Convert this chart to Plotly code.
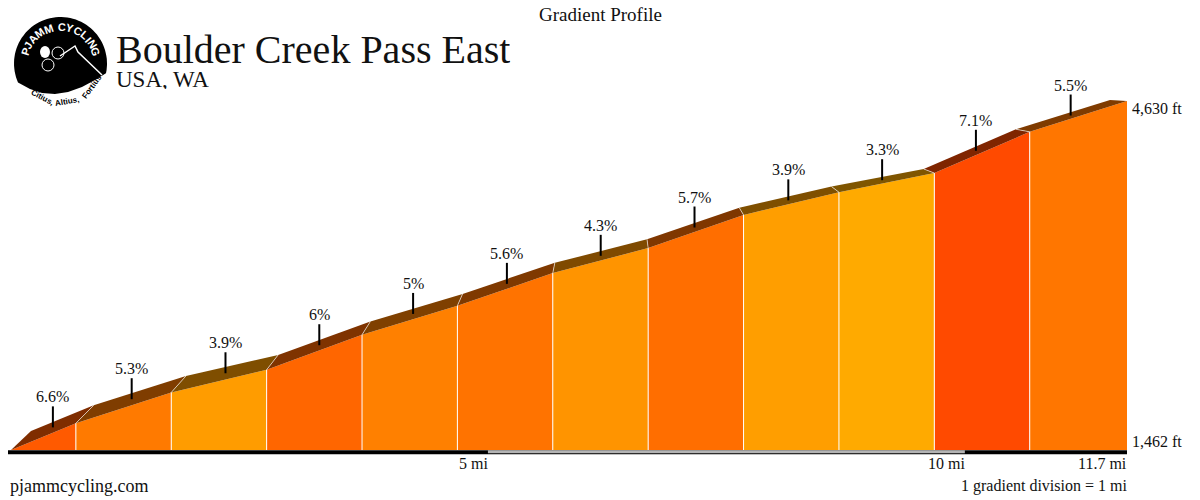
import math
import plotly.graph_objs as go

# profile data
dist_mi = [0, 0.68, 1.68, 2.68, 3.68, 4.68, 5.68, 6.68, 7.68, 8.68, 9.68, 10.68, 11.7]
elev_ft = [1462, 1705, 1985, 2190, 2508, 2772, 3068, 3295, 3596, 3802, 3976, 4350, 4630]
grade = [6.6, 5.3, 3.9, 6, 5, 5.6, 4.3, 5.7, 3.9, 3.3, 7.1, 5.5]
grade_labels = ['6.6%', '5.3%', '3.9%', '6%', '5%', '5.6%', '4.3%', '5.7%', '3.9%', '3.3%', '7.1%', '5.5%']
mile_ticks = [5, 10, 11.7]
mile_labels = ['5 mi', '10 mi', '11.7 mi']

# colours of the front faces (one per segment)
front_colors = ['#ff5a00', '#ff7a00', '#ff9c00', '#ff6600', '#ff8000', '#ff7300',
                '#ff9400', '#ff6e00', '#ff9e00', '#ffaa00', '#ff4a00', '#ff7600']


def darker(c, k=0.5):
    r, g, b = int(c[1:3], 16), int(c[3:5], 16), int(c[5:7], 16)
    return 'rgb(%d,%d,%d)' % (r * k, g * k, b * k)


W, H = 1200, 500
FONT = 'Liberation Serif, Times New Roman, serif'

# pixel scale of the drawing
ppm = 1116 / dist_mi[-1]                          # px per mile
fpp = (max(elev_ft) - min(elev_ft)) / 349         # ft per px
base = min(elev_ft)
x_range = [-11 / ppm, (W - 11) / ppm]
y_range = [base - 50 * fpp, base + 450 * fpp]


def px(x):
    return x / W


def py(y):
    return 1 - y / H


def offset(d):
    # perspective offset of the top face, in data units
    t = d / dist_mi[-1]
    return (20 - 37 * t) / ppm, (19 - 18 * t) * fpp


fig = go.Figure()
n = len(grade)

# front faces
for i in range(n):
    d0, d1 = dist_mi[i], dist_mi[i + 1]
    e0, e1 = elev_ft[i], elev_ft[i + 1]
    fig.add_trace(go.Scatter(x=[d0, d0, d1, d1, d0], y=[base, e0, e1, base, base],
                             fill='toself', fillcolor=front_colors[i], mode='lines',
                             line=dict(width=0), hoverinfo='skip'))

# top faces
for i in range(n):
    d0, d1 = dist_mi[i], dist_mi[i + 1]
    e0, e1 = elev_ft[i], elev_ft[i + 1]
    ox0, oy0 = offset(d0)
    ox1, oy1 = offset(d1)
    fig.add_trace(go.Scatter(x=[d0, d1, d1 + ox1, d0 + ox0, d0],
                             y=[e0, e1, e1 + oy1, e0 + oy0, e0],
                             fill='toself', fillcolor=darker(front_colors[i]), mode='lines',
                             line=dict(width=0), hoverinfo='skip'))

# white separators
sx, sy, tx, ty = [], [], [], []
for i in range(1, n):
    d, e = dist_mi[i], elev_ft[i]
    ox, oy = offset(d)
    sx += [d, d, None]
    sy += [base, e, None]
    tx += [d, d + ox, None]
    ty += [e, e + oy, None]
fig.add_trace(go.Scatter(x=sx, y=sy, mode='lines', line=dict(color='white', width=1),
                         hoverinfo='skip'))
fig.add_trace(go.Scatter(x=tx, y=ty, mode='lines',
                         line=dict(color='rgba(255,255,255,0.6)', width=1), hoverinfo='skip'))

# gradient ticks
kx, ky = [], []
for i in range(n):
    d = (dist_mi[i] + dist_mi[i + 1]) / 2
    e = (elev_ft[i] + elev_ft[i + 1]) / 2
    ox, oy = offset(d)
    xc, yc = d + ox / 2, e + oy / 2
    kx += [xc, xc, None]
    ky += [yc, yc + 21 * fpp, None]
    fig.add_annotation(x=xc, y=yc + 21 * fpp, text=grade_labels[i], showarrow=False,
                       xanchor='center', yanchor='bottom', yshift=-1,
                       font=dict(family=FONT, size=16, color='#111'))
fig.add_trace(go.Scatter(x=kx, y=ky, mode='lines', line=dict(color='black', width=2),
                         hoverinfo='skip'))

# distance bar
bar_y = base - 2.3 * fpp
fig.add_trace(go.Scatter(x=[-3 / ppm, dist_mi[-1]], y=[bar_y, bar_y], mode='lines',
                         line=dict(color='black', width=4), hoverinfo='skip'))
fig.add_trace(go.Scatter(x=[mile_ticks[0], mile_ticks[1]], y=[bar_y + 0.5 * fpp, bar_y + 0.5 * fpp],
                         mode='lines', line=dict(color='#b4b4b4', width=3), hoverinfo='skip'))
for m, lab in zip(mile_ticks, mile_labels):
    fig.add_annotation(x=m, y=base - 13 * fpp, text=lab, showarrow=False,
                       xanchor='right', yanchor='middle', xshift=2,
                       font=dict(family=FONT, size=16, color='#111'))

# elevation labels
fig.add_annotation(x=dist_mi[-1] + 3 / ppm, y=max(elev_ft) - 7 * fpp,
                   text='{:,} ft'.format(max(elev_ft)), showarrow=False,
                   xanchor='left', yanchor='middle', font=dict(family=FONT, size=16, color='#111'))
fig.add_annotation(x=dist_mi[-1] + 3 / ppm, y=base + 9 * fpp,
                   text='{:,} ft'.format(base), showarrow=False,
                   xanchor='left', yanchor='middle', font=dict(family=FONT, size=16, color='#111'))

# header and footer texts
texts = [
    ('Gradient Profile', 600, 14, 19, 'center', 20),
    ('Boulder Creek Pass East', 114, 49, 40, 'left', 36),
    ('USA, WA', 114, 79, 23, 'left', 20),
    ('pjammcycling.com', 8, 486, 18, 'left', 20),
    ('1 gradient division = 1 mi', 1129, 486, 16, 'right', 18),
]
for t, x, y, s, a, h in texts:
    fig.add_annotation(xref='paper', yref='paper', x=px(x), y=py(y), text=t, showarrow=False,
                       xanchor=a, yanchor='middle', height=h,
                       font=dict(family=FONT, size=s, color='#111'))

# logo
cx, cy, r = 60.5, 63.5, 46.5
pts = []
for k in range(61):
    a = math.radians(204 - k * (216 / 60))
    pts.append((cx + r * math.cos(a), cy - r * math.sin(a)))
pts += [(95, 80), (82, 87), (68, 92), (55, 94), (42, 93), (30, 89)]
path = 'M ' + ' L '.join('%.4f,%.4f' % (px(a), py(b)) for a, b in pts) + ' Z'
fig.add_shape(type='path', xref='paper', yref='paper', path=path,
              fillcolor='black', line=dict(width=0))
mpts = [(60, 56), (75, 46), (78, 52), (102, 75)]
fig.add_shape(type='path', xref='paper', yref='paper',
              path='M ' + ' L '.join('%.4f,%.4f' % (px(a), py(b)) for a, b in mpts),
              line=dict(color='white', width=1.5))
for wx, wy in [(48, 65), (58, 53)]:
    fig.add_shape(type='circle', xref='paper', yref='paper',
                  x0=px(wx - 6), x1=px(wx + 6), y0=py(wy + 6), y1=py(wy - 6),
                  line=dict(color='white', width=1))
fig.add_shape(type='circle', xref='paper', yref='paper',
              x0=px(40), x1=px(50), y0=py(58), y1=py(46),
              fillcolor='white', line=dict(width=0))

# letters of the logo text spread by rough width
top_txt = 'PJAMM CYCLING'
wts = [{'I': 0.45, 'J': 0.8, ' ': 0.6, 'M': 1.2}.get(c, 1.0) for c in top_txt]
tot = sum(wts)
acc = 0
for ch, w in zip(top_txt, wts):
    a = 168 - (acc + w / 2) / tot * 156
    acc += w
    ar = math.radians(a)
    fig.add_annotation(xref='paper', yref='paper', x=px(cx + 37 * math.cos(ar)),
                       y=py(cy - 37 * math.sin(ar)), text='<b>%s</b>' % ch, showarrow=False,
                       textangle=90 - a, xanchor='center', yanchor='middle',
                       font=dict(family='Liberation Sans, Arial', size=11, color='white'))
for word, a in [('Citius,', 242), ('Altius,', 280), ('Fortius', 324)]:
    ar = math.radians(a)
    fig.add_annotation(xref='paper', yref='paper', x=px(cx + 39 * math.cos(ar)),
                       y=py(cy - 39 * math.sin(ar)), text='<b>%s</b>' % word, showarrow=False,
                       textangle=270 - a, xanchor='center', yanchor='middle',
                       font=dict(family='Liberation Sans, Arial', size=8, color='black'))

fig.update_layout(width=W, height=H, margin=dict(l=0, r=0, t=0, b=0),
                  plot_bgcolor='white', paper_bgcolor='white', showlegend=False,
                  xaxis=dict(range=x_range, visible=False, fixedrange=True),
                  yaxis=dict(range=y_range, visible=False, fixedrange=True))
fig.write_html('out.html', config={'displayModeBar': False},
               post_script="document.body.style.margin='0';")
